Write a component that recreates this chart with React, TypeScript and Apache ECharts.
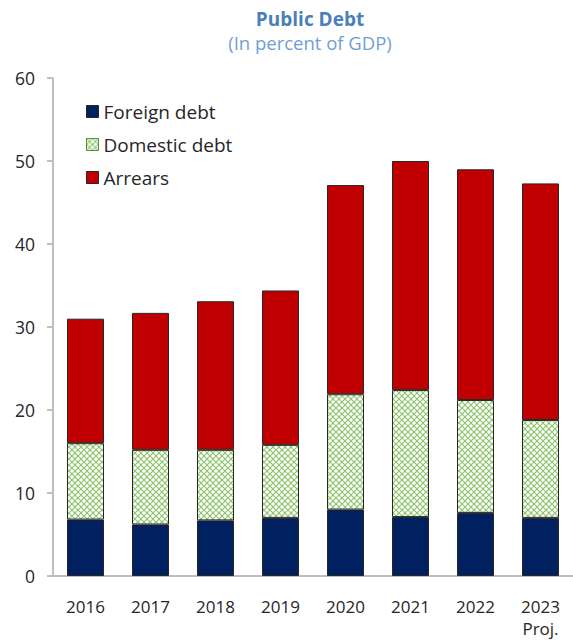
import React, { useEffect, useRef } from "react";
import * as echarts from "echarts";

const categories = ["2016", "2017", "2018", "2019", "2020", "2021", "2022", "2023"];
const foreignDebt = [6.8, 6.2, 6.7, 7.0, 8.0, 7.1, 7.6, 7.0];
const domesticDebt = [9.2, 9.0, 8.5, 8.8, 13.9, 15.3, 13.6, 11.8];
const arrears = [15.0, 16.5, 17.9, 18.6, 25.2, 27.6, 27.8, 28.5];
const yTicks = [0, 10, 20, 30, 40, 50, 60];

function makePattern(): any {
  const s = 6;
  const c = document.createElement("canvas");
  c.width = s;
  c.height = s;
  const ctx = c.getContext("2d")!;
  ctx.fillStyle = "#ffffff";
  ctx.fillRect(0, 0, s, s);
  ctx.strokeStyle = "#8cc46c";
  ctx.lineWidth = 1.2;
  ctx.beginPath();
  ctx.moveTo(0, 0);
  ctx.lineTo(s, s);
  ctx.moveTo(s, 0);
  ctx.lineTo(0, s);
  ctx.stroke();
  return { image: c.toDataURL(), repeat: "repeat" };
}

export default function App() {
  const ref = useRef<HTMLDivElement>(null);
  useEffect(() => {
    const chart = echarts.init(ref.current!, null, { renderer: "svg" });
    const font = "'Open Sans', 'Noto Sans', sans-serif";
    const pattern = makePattern();
    const barBorder = { borderColor: "#262626", borderWidth: 1 };
    chart.setOption({
      animation: false,
      textStyle: { fontFamily: font },
      title: {
        text: "Public Debt",
        subtext: "(In percent of GDP)",
        left: 305,
        textAlign: "center",
        top: 4,
        itemGap: 5,
        textStyle: { fontSize: 19, fontWeight: "bold", color: "#4a7fb8", fontFamily: font },
        subtextStyle: { fontSize: 18.5, color: "#6f9fd4", fontFamily: font },
      },
      legend: {
        orient: "vertical",
        left: 81,
        top: 97,
        icon: "rect",
        itemWidth: 12,
        itemHeight: 12,
        itemGap: 14,
        textStyle: { fontSize: 19, color: "#262626", fontFamily: font },
        data: [
          { name: "Foreign debt", itemStyle: { color: "#002060", borderColor: "#262626", borderWidth: 1 } },
          { name: "Domestic debt", itemStyle: { color: pattern, borderColor: "#5a8a3c", borderWidth: 1 } },
          { name: "Arrears", itemStyle: { color: "#c00000", borderColor: "#262626", borderWidth: 1 } },
        ],
      },
      grid: { left: 53, top: 78, bottom: 64, width: 524, containLabel: false },
      xAxis: {
        type: "category",
        data: categories,
        axisLine: { lineStyle: { color: "#bfbfbf", width: 2 } },
        axisTick: { inside: true, length: 5, lineStyle: { color: "#bfbfbf", width: 2 } },
        axisLabel: {
          fontSize: 17,
          color: "#262626",
          margin: 19,
          lineHeight: 22,
          formatter: (v: string) => (v === "2023" ? "2023\nProj." : v),
        },
      },
      yAxis: {
        type: "value",
        min: yTicks[0],
        max: yTicks[yTicks.length - 1],
        interval: 10,
        splitLine: { show: false },
        axisLine: { show: true, lineStyle: { color: "#bfbfbf", width: 2 } },
        axisTick: { show: true, length: 6, lineStyle: { color: "#bfbfbf", width: 2 } },
        axisLabel: { fontSize: 17.5, color: "#262626", margin: 18 },
      },
      series: [
        {
          name: "Foreign debt",
          type: "bar",
          stack: "d",
          barWidth: 37,
          data: foreignDebt,
          itemStyle: { color: "#002060", ...barBorder },
        },
        {
          name: "Domestic debt",
          type: "bar",
          stack: "d",
          barWidth: 37,
          data: domesticDebt,
          itemStyle: { color: pattern, ...barBorder },
        },
        {
          name: "Arrears",
          type: "bar",
          stack: "d",
          barWidth: 37,
          data: arrears,
          itemStyle: { color: "#c00000", ...barBorder },
        },
      ],
    });
    return () => chart.dispose();
  }, []);
  return <div ref={ref} style={{ width: 573, height: 640, position: "absolute", left: 0, top: 0 }} />;
}
